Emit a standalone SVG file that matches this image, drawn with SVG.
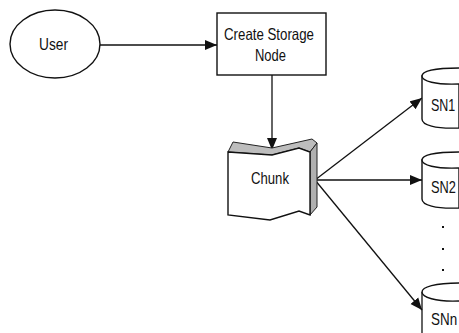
<svg xmlns="http://www.w3.org/2000/svg" width="459" height="333" viewBox="0 0 459 333">
<style>
.s{fill:#fff;stroke:#111;stroke-width:1.4}
.c{fill:none;stroke:#111;stroke-width:1.3}
.t{font-family:"Liberation Sans",Arial,sans-serif;font-size:16.500px;fill:#111;text-anchor:middle}
.n{font-family:"Liberation Sans",Arial,sans-serif;font-size:16px;fill:#111;text-anchor:start}
</style>
<defs>
<marker id="a" markerUnits="userSpaceOnUse" markerWidth="14" markerHeight="12" refX="12" refY="5.500" orient="auto"><path d="M0 0.500L12 5.500L0 10.500Z" fill="#111"/></marker>
</defs>
<rect width="459" height="333" fill="#fff"/>
<g id="connectors">
<path class="c" d="M100 45H217" marker-end="url(#a)"/>
<path class="c" d="M272 75L272 150" marker-end="url(#a)"/>
<path class="c" d="M315 180L422 98" marker-end="url(#a)"/>
<path class="c" d="M315 180H422" marker-end="url(#a)"/>
<path class="c" d="M315 180L422 310" marker-end="url(#a)"/>
<circle cx="315" cy="180" r="1.500" fill="#111"/>
</g>
<g id="user"><ellipse class="s" cx="55" cy="44" rx="45" ry="34"/><text class="t" x="53.500" y="50" textLength="29" lengthAdjust="spacingAndGlyphs">User</text></g>
<g id="create-storage-node"><rect class="s" x="217" y="13" width="109" height="62"/><text class="t" x="269" y="40" textLength="90" lengthAdjust="spacingAndGlyphs">Create Storage</text><text class="t" x="270.500" y="61" textLength="31" lengthAdjust="spacingAndGlyphs">Node</text></g>
<g id="chunk">
<path d="M228 152L233 142L272 148L312 139L317 143L310 152L299 148L272 155Z" fill="#bdbdbd" stroke="#222" stroke-width="1"/>
<path d="M310 152L317 143L317 207L310 215Z" fill="#b0b0b0" stroke="#222" stroke-width="1"/>
<path class="s" d="M228 152L272 155L299 148L310 152L310 215L299 211L270 220L228 215Z"/>
<text class="t" x="270" y="184" textLength="38" lengthAdjust="spacingAndGlyphs">Chunk</text>
</g>
<g id="sn1"><path class="s" d="M422 76V119C422 125 435 129 459 128V76Z"/><path class="s" d="M459 68C435 68 422 71 422 76C422 81 435 85 459 84"/><text class="n" transform="translate(431 111) scale(.78 1)">SN1</text></g>
<g id="sn2"><path class="s" d="M422 160V199C422 205 435 209 459 208V160Z"/><path class="s" d="M459 152C435 152 422 155 422 160C422 165 435 169 459 168"/><text class="n" transform="translate(431 193) scale(.8 1)">SN2</text></g>
<g id="snn"><path class="c" d="M422 292V333"/><path class="s" d="M459 283C435 283 422 287 422 292C422 297 435 302 459 301"/><text class="n" transform="translate(431 325) scale(.84 1)">SNn</text></g>
<g id="ellipsis"><rect x="442" y="226" width="2" height="2" fill="#111"/><rect x="442" y="248" width="2" height="2" fill="#111"/><rect x="442" y="269" width="2" height="2" fill="#111"/></g>
</svg>
